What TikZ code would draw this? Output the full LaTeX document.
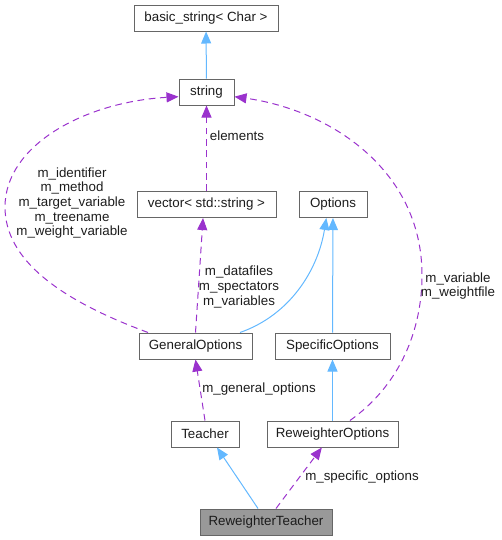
\documentclass[tikz,border=0pt]{standalone}
\usepackage{fontspec}
\setmainfont{Liberation Sans}
\usetikzlibrary{arrows.meta}
\definecolor{inhblue}{HTML}{63B8FF}
\definecolor{usepurple}{HTML}{9A32CD}
\definecolor{boxgray}{HTML}{666666}
\definecolor{ownfill}{HTML}{999999}
\definecolor{txt}{HTML}{1C1C1C}
\begin{document}
\begin{tikzpicture}[x=0.75pt,y=-0.75pt,
        cls/.style={draw=boxgray,fill=white,line width=0.75pt,minimum height=19.5pt,
            inner sep=0pt,font=\fontsize{10}{11}\selectfont,text=txt},
        inh/.style={draw=inhblue,line width=0.75pt,-{Triangle[length=9pt,width=7.5pt]}},
        use/.style={draw=usepurple,line width=0.75pt,dash pattern=on 5pt off 3.5pt,
            -{Triangle[length=9pt,width=7.5pt]}},
        lbl/.style={font=\fontsize{10}{11}\selectfont,align=center,inner sep=0pt,text=txt}]
\useasboundingbox (0,0) rectangle (501,540);

% classes
\node[cls,minimum width=108pt] (bstr) at (206,18) {basic\_string< Char >};
\node[cls,minimum width=41.25pt] (str) at (206.5,92) {string};
\node[cls,minimum width=104.25pt] (vec) at (206.5,204.5) {vector< std::string >};
\node[cls,minimum width=51pt] (opt) at (333,204.5) {Options};
\node[cls,minimum width=84.75pt] (gen) at (195.5,346) {GeneralOptions};
\node[cls,minimum width=86.25pt] (spec) at (332.5,346) {SpecificOptions};
\node[cls,minimum width=51pt] (teach) at (205,434) {Teacher};
\node[cls,minimum width=98.25pt] (rwopt) at (332.5,434) {ReweighterOptions};
\node[cls,minimum width=99pt,fill=ownfill] (rwt) at (266,522) {ReweighterTeacher};

% inheritance
\draw[inh] (str) -- (bstr);
\draw[inh] (spec) -- (opt);
\draw[inh] (rwopt) -- (spec);
\draw[inh] ([xshift=33.4pt]gen.north) .. controls (290,315) and (318,270) .. ([xshift=-5pt]opt.south);
\draw[inh] ([xshift=-6pt]rwt.north) -- ([xshift=9pt]teach.south);

% usage
\draw[use] (vec) -- (str);
\draw[use] (gen.north) -- ([xshift=-2.6pt]vec.south);
\draw[use] (teach.north) -- (gen.south);
\draw[use] ([xshift=7.5pt]rwt.north) -- ([xshift=-8pt]rwopt.south);
\draw[use] ([xshift=-35.6pt]gen.north) .. controls (60,300) and (5,260) .. (5,207)
    .. controls (5,145) and (85,102) .. ([yshift=-3.5pt]str.west);
\draw[use] ([xshift=13.1pt]rwopt.north) .. controls (400,385) and (422,330) .. (422,275)
    .. controls (422,170) and (330,110) .. ([yshift=-3.5pt]str.east);

% labels
\node[lbl] (lelem) at (237,136) {elements};
\node[lbl] (lgenstr) at (72,203) {m\_identifier\\m\_method\\m\_target\_variable\\m\_treename\\m\_weight\_variable};
\node[lbl] (lgenvec) at (239,287) {m\_datafiles\\m\_spectators\\m\_variables};
\node[lbl] (lteach) at (259,389) {m\_general\_options};
\node[lbl] (lrwt) at (362,477) {m\_specific\_options};
\node[lbl] (lrwopt) at (458,286) {m\_variable\\m\_weightfile};

\end{tikzpicture}
\end{document}
